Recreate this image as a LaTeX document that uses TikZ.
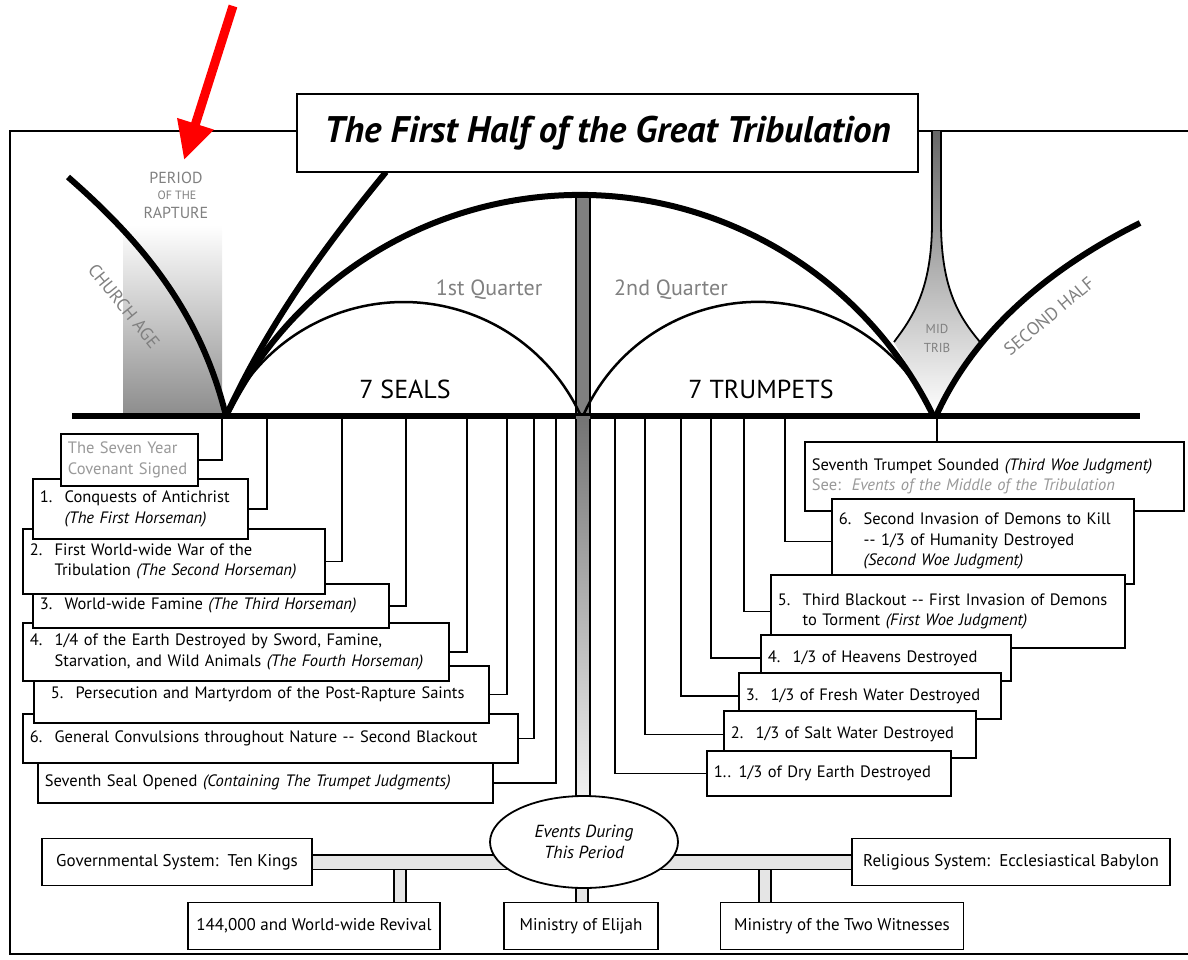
\documentclass[tikz,border=0pt]{standalone}
\usepackage{fontspec}
\setmainfont{PT Sans}
\usetikzlibrary{arrows.meta,shapes.geometric}

\newcommand{\nb}[1]{\makebox[1.5em][l]{#1}}
\newcommand{\hang}{\hspace*{1.5em}}

\begin{document}
\begin{tikzpicture}[x=1pt,y=-1pt,
    evbox/.style={draw, fill=white, line width=1.8pt, align=left, anchor=north west,
      inner xsep=7pt, inner ysep=0pt, font=\fontsize{16.5}{20.5}\selectfont},
    sysbox/.style={draw, fill=white, line width=1.8pt, minimum height=47,
      inner sep=0pt, font=\fontsize{17}{20}\selectfont},
    hop/.style={line width=1.8pt},
    heavy/.style={line width=6pt},
    lite/.style={line width=2.5pt},
    greytxt/.style={text=black!50},
    palegrey/.style={text=black!40},
    chan/.style={double=gray!20, double distance=13pt, line width=1.6pt},
  ]
  \useasboundingbox (0,0) rectangle (1188,960);

  % outer frame
  \draw[hop] (1188,131) -- (10,131) -- (10,954) -- (1188,954);

  % period of the rapture / church age
  \shade[top color=white, bottom color=black!45] (123,225) rectangle (222,416);
  \node[greytxt, font=\fontsize{16}{16}\selectfont] (period) at (176,178) {PERIOD};
  \node[greytxt, font=\fontsize{12}{12}\selectfont] (ofthe) at (177,195) {OF THE};
  \node[greytxt, font=\fontsize{16}{16}\selectfont] (rapture) at (176,213) {RAPTURE};
  \node[greytxt, rotate=-51, font=\fontsize{18}{18}\selectfont] (church) at (124,306) {CHURCH AGE};

  % red arrow
  \coordinate (redtail) at (233,6);
  \coordinate (redtip) at (184,160);
  \draw[red, line width=9pt, -{Triangle[length=38pt,width=36pt]}] (redtail) -- (redtip);

  % mid trib funnel
  \shade[top color=black!60, bottom color=white]
    (932,131) -- (932,222) .. controls (932,290) and (912,318) .. (894,342)
    -- (936,416) -- (980,342) .. controls (960,318) and (941,290) .. (941,222)
    -- (941,131) -- cycle;
  \draw[hop] (932,131) -- (932,222) .. controls (932,290) and (912,318) .. (894,342);
  \draw[hop] (941,131) -- (941,222) .. controls (941,290) and (960,318) .. (980,342);
  \node[greytxt, font=\fontsize{13}{19}\selectfont, align=center] (midtrib) at (937,338) {MID\\TRIB};

  % centre bar, upper part
  \filldraw[fill=black!50, line width=1.5pt] (576,195) rectangle (590,416);

  % curves
  \coordinate (lbase) at (226,416);
  \coordinate (mbase) at (583,416);
  \coordinate (rbase) at (936,416);
  \draw[heavy] (68,177) .. controls (140,240) and (200,310) .. (lbase);
  \draw[heavy] (lbase) .. controls (270,320) and (330,240) .. (386,172);
  \draw[heavy] (lbase) arc[start angle=206, end angle=334, radius=393.5];
  \draw[lite] (lbase) arc[start angle=204.6, end angle=335.4, radius=195.2];
  \draw[lite] (mbase) arc[start angle=203.8, end angle=336.2, radius=191.3];
  \draw[heavy] (rbase) .. controls (975,330) and (1050,268) .. (1140,223);
  \node[greytxt, rotate=40, font=\fontsize{18}{18}\selectfont] (second) at (1049,316) {SECOND HALF};

  \node[greytxt, font=\fontsize{22}{22}\selectfont] (q1) at (489,290) {1st Quarter};
  \node[greytxt, font=\fontsize{22}{22}\selectfont] (q2) at (671,290) {2nd Quarter};
  \node[font=\fontsize{26}{26}\selectfont] (seals) at (405,389) {7 SEALS};
  \node[font=\fontsize{26}{26}\selectfont] (trumpets) at (761,389) {7 TRUMPETS};

  % time line
  \draw[heavy] (72,416) -- (1140,416);

  % centre bar, lower part
  \shade[top color=black!55, bottom color=gray!10] (576,416) rectangle (590,800);
  \draw[line width=1.5pt] (576,419) -- (576,800) (590,419) -- (590,800);

  % title
  \node[draw, fill=white, line width=2.5pt, minimum width=621, minimum height=78,
    font=\fontsize{37}{40}\selectfont\bfseries\itshape] (title) at (607.5,133)
    {The First Half of the Great Tribulation};

  % seals
  \node[evbox, text width=441, minimum height=40] (s7) at (37,762)
    {Seventh Seal Opened \textit{(Containing The Trumpet Judgments)}};
  \node[evbox, text width=481, minimum height=49] (s6) at (22,713)
    {\nb{6.}General Convulsions throughout Nature -{}- Second Blackout};
  \node[evbox, text width=441, minimum height=57] (s5) at (33,665)
    {\hspace*{0.6em}\nb{5.}Persecution and Martyrdom of the Post-Rapture Saints};
  \node[evbox, text width=412, minimum height=58] (s4) at (22,622)
    {\nb{4.}1/4 of the Earth Destroyed by Sword, Famine,\\
     \hang Starvation, and Wild Animals \textit{(The Fourth Horseman)}};
  \node[evbox, text width=342, minimum height=44] (s3) at (32,583)
    {\nb{3.}World-wide Famine \textit{(The Third Horseman)}};
  \node[evbox, text width=288, minimum height=65] (s2) at (22,528)
    {\nb{2.}First World-wide War of the\\
     \hang Tribulation \textit{(The Second Horseman)}};
  \node[evbox, text width=201, minimum height=60] (s1) at (32,478)
    {\nb{1.}Conquests of Antichrist\\
     \hang\textit{(The First Horseman)}};
  \node[evbox, palegrey, text width=123, minimum height=52] (cov) at (60,433)
    {The Seven Year\\Covenant Signed};

  \coordinate (c0) at (222,416);
  \coordinate (c1) at (267,416);
  \coordinate (c2) at (342,416);
  \coordinate (c3) at (406,416);
  \coordinate (c4) at (467,416);
  \coordinate (c5) at (507,416);
  \coordinate (c6) at (534,416);
  \coordinate (c7) at (556,416);
  \draw[hop] (c0) |- (cov.east);
  \draw[hop] (c1) |- (s1.east);
  \draw[hop] (c2) |- (s2.east);
  \draw[hop] (c3) |- (s3.east);
  \draw[hop] (c4) |- (s4.east);
  \draw[hop] (c5) |- (s5.east);
  \draw[hop] (c6) |- (s6.east);
  \draw[hop] (c7) |- (s7.east);

  % trumpets
  \node[evbox, text width=365, minimum height=69] (r7) at (804,441)
    {Seventh Trumpet Sounded \textit{(Third Woe Judgment)}\\
     {\color{black!40}See:\ \ \textit{Events of the Middle of the Tribulation}}};
  \node[evbox, text width=288, minimum height=85] (r6) at (831,498)
    {\nb{6.}Second Invasion of Demons to Kill\\
     \hang -{}- 1/3 of Humanity Destroyed\\
     \hang\textit{(Second Woe Judgment)}};
  \node[evbox, text width=340, minimum height=73] (r5) at (770,574)
    {\nb{5.}Third Blackout -{}- First Invasion of Demons\\
     \hang to Torment \textit{(First Woe Judgment)}};
  \node[evbox, text width=236, minimum height=46] (r4) at (760,634)
    {\nb{4.}1/3 of Heavens Destroyed};
  \node[evbox, text width=248, minimum height=46] (r3) at (738,672)
    {\nb{3.}1/3 of Fresh Water Destroyed};
  \node[evbox, text width=238, minimum height=47] (r2) at (723,710)
    {\nb{2.}1/3 of Salt Water Destroyed};
  \node[evbox, text width=230, minimum height=45] (r1) at (706,750)
    {\nb{1..}1/3 of Dry Earth Destroyed};

  \coordinate (t1) at (615,416);
  \coordinate (t2) at (645,416);
  \coordinate (t3) at (681,416);
  \coordinate (t4) at (711,416);
  \coordinate (t5) at (744,416);
  \coordinate (t6) at (785,416);
  \coordinate (t7) at (937,416);
  \draw[hop] (t1) |- (r1.west);
  \draw[hop] (t2) |- (r2.west);
  \draw[hop] (t3) |- (r3.west);
  \draw[hop] (t4) |- (r4.west);
  \draw[hop] (t5) |- (r5.west);
  \draw[hop] (t6) |- (r6.west);
  \draw[hop] (t7) -- (t7 |- r7.north);

  % events during this period
  \node[sysbox, minimum width=270] (gov) at (177,862) {Governmental System:\ \ Ten Kings};
  \node[sysbox, minimum width=318] (rel) at (1011,862) {Religious System:\ \ Ecclesiastical Babylon};
  \node[sysbox, minimum width=252] (rev) at (314,926) {144,000 and World-wide Revival};
  \node[sysbox, minimum width=154] (eli) at (581,926) {Ministry of Elijah};
  \node[sysbox, minimum width=243] (wit) at (842,926) {Ministry of the Two Witnesses};

  \coordinate (j1) at (400,862);
  \coordinate (j2) at (582,862);
  \coordinate (j3) at (765,862);
  \draw[chan, double distance=10pt] (j1) -- (j1 |- rev.north);
  \draw[chan, double distance=10pt] (j2) -- (j2 |- eli.north);
  \draw[chan, double distance=10pt] (j3) -- (j3 |- wit.north);
  \draw[chan] (gov.east) -- (rel.west);

  \node[draw, ellipse, fill=white, line width=1.8pt, minimum width=188, minimum height=92,
    inner sep=0pt, align=center, font=\fontsize{17.5}{21}\selectfont\itshape] (ev) at (584,842)
    {Events During\\This Period};
\end{tikzpicture}
\end{document}
